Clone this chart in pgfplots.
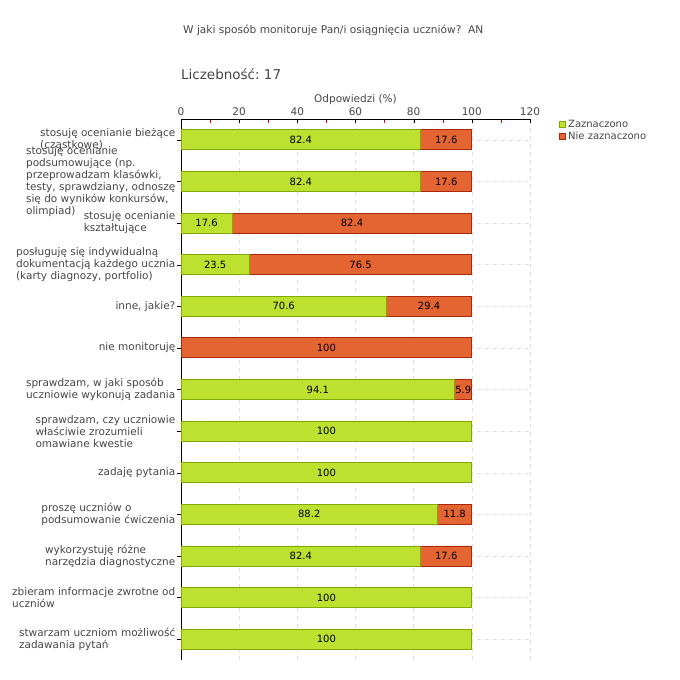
\documentclass[border=0pt]{standalone}
\usepackage{pgfplots}
\pgfplotsset{compat=1.18}
\usepackage{pgfplotstable}
\usepackage{fontspec}
\setmainfont{DejaVu Sans}

\definecolor{zaz}{RGB}{190,225,48}
\definecolor{zazd}{RGB}{128,170,0}
\definecolor{nie}{RGB}{228,100,50}
\definecolor{nied}{RGB}{170,40,10}
\definecolor{txt}{RGB}{70,70,70}

% i = position from the bottom, g = Zaznaczono, o = Nie zaznaczono
\pgfplotstableread{
i  g     o
12 82.4  17.6
11 82.4  17.6
10 17.6  82.4
9  23.5  76.5
8  70.6  29.4
7  0     100
6  94.1  5.9
5  100   0
4  100   0
3  88.2  11.8
2  82.4  17.6
1  100   0
0  100   0
}\dane

\begin{document}
\begin{tikzpicture}
\useasboundingbox (0,0) rectangle (680pt,680pt);
\node[anchor=base west, inner sep=0, text=txt, font=\fontsize{10.6}{12}\selectfont]
  at (183pt,646pt) {W jaki sposób monitoruje Pan/i osiągnięcia uczniów?\ \ AN};
\node[anchor=base west, inner sep=0, text=txt, font=\fontsize{13.5}{15}\selectfont]
  at (181pt,600pt) {Liczebność:\ 17};

\begin{axis}[
  at={(181pt,20pt)}, anchor=south west,
  scale only axis, width=349pt, height=541pt,
  xbar stacked, bar width=20pt,
  xmin=0, xmax=120, ymin=-0.5, ymax=12.5,
  axis x line*=top, axis y line*=left,
  axis line style={black, line width=0.8pt},
  xtick={0,20,...,120}, minor x tick num=1,
  xtick align=inside, ytick align=outside,
  major tick length=4pt, minor tick length=4pt,
  minor x tick style={red!85!black},
  tick style={black},
  grid=major,
  major grid style={gray!25, dash pattern=on 4pt off 4pt},
  xlabel={Odpowiedzi (\%)},
  xlabel style={text=txt, font=\fontsize{10.5}{12}\selectfont, yshift=-4pt},
  xticklabel style={text=txt, font=\fontsize{10.5}{12}\selectfont},
  ytick={0,...,12},
  yticklabels={
    {stwarzam uczniom możliwość\\zadawania pytań},
    {zbieram informacje zwrotne od\\uczniów},
    {wykorzystuję różne\\narzędzia diagnostyczne},
    {proszę uczniów o\\podsumowanie ćwiczenia},
    {zadaję pytania},
    {sprawdzam, czy uczniowie\\właściwie zrozumieli\\omawiane kwestie},
    {sprawdzam, w jaki sposób\\uczniowie wykonują zadania},
    {nie monitoruję},
    {inne, jakie?},
    {posługuję się indywidualną\\dokumentacją każdego ucznia\\(karty diagnozy, portfolio)},
    {stosuję ocenianie\\kształtujące},
    {stosuję ocenianie\\podsumowujące (np.\\przeprowadzam klasówki,\\testy, sprawdziany, odnoszę\\się do wyników konkursów,\\olimpiad)},
    {stosuję ocenianie bieżące\\(cząstkowe)}
  },
  yticklabel style={align=left, text=txt, font=\fontsize{10.5}{12}\selectfont, inner sep=1.5pt},
  /pgf/number format/.cd, fixed, precision=1, assume math mode=true,
  /pgfplots/.cd,
  point meta=explicit,
  nodes near coords={\pgfmathfloatifflags{\pgfplotspointmeta}{0}{}{\pgfmathprintnumber{\pgfplotspointmeta}}},
  every node near coord/.append style={anchor=center, text=black, font=\fontsize{10}{12}\selectfont},
  legend style={at={(1.075,1.005)}, anchor=north west, draw=none, fill=none,
    font=\fontsize{10}{11}\selectfont, text=txt, row sep=-1pt, cells={anchor=west}},
  legend image code/.code={\fill[#1] (0pt,-3pt) rectangle (6pt,3pt);},
]
\addplot[fill=zaz, draw=zazd, line width=0.8pt]
  table[x=g, y=i, meta=g] {\dane};
\addplot[fill=nie, draw=nied, line width=0.8pt]
  table[x=o, y=i, meta=o] {\dane};
\legend{Zaznaczono, Nie zaznaczono}
\end{axis}
\end{tikzpicture}
\end{document}
